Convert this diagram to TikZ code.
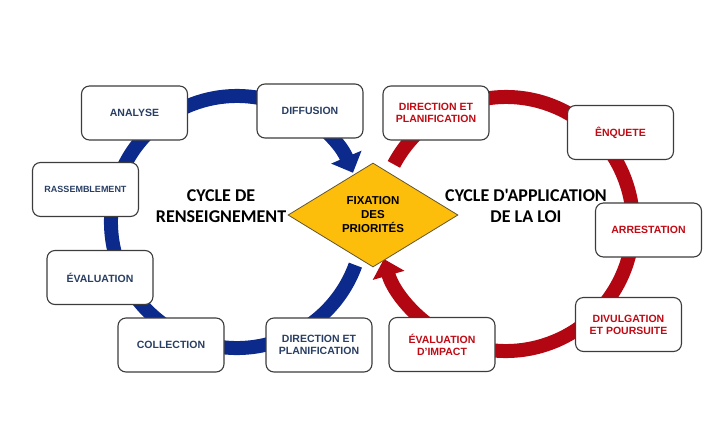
\documentclass[tikz,border=0pt]{standalone}
\usepackage{fontspec}
\setmainfont{Liberation Sans}
\newfontfamily\titlefont{Carlito}
\usetikzlibrary{arrows.meta,shapes.geometric}
\definecolor{ringblue}{RGB}{12,42,140}
\definecolor{ringred}{RGB}{178,6,18}
\definecolor{txtblue}{RGB}{40,62,100}
\definecolor{txtred}{RGB}{192,10,20}
\definecolor{gold}{RGB}{252,190,10}
\definecolor{boxedge}{RGB}{60,60,60}
\tikzset{
  stepbox/.style={draw=boxedge, line width=1.1pt, fill=white, rounded corners=8pt,
    minimum width=106pt, minimum height=54pt, align=center, inner sep=1pt,
    font=\fontsize{10.5}{12}\selectfont\bfseries},
  bluebox/.style={stepbox, text=txtblue},
  redbox/.style={stepbox, text=txtred},
  ringb/.style={line width=14pt, draw=ringblue},
  ringr/.style={line width=14pt, draw=ringred},
  cycletitle/.style={align=center, font=\titlefont\fontsize{18}{21}\selectfont\bfseries, text=black}
}
\begin{document}
\begin{tikzpicture}[x=1pt,y=-1pt]
\useasboundingbox (0,0) rectangle (720,421);
\coordinate (cl) at (237,222);
\coordinate (cr) at (506,224);
% rings
\draw[ringb, -{Triangle[length=17pt, width=32pt]}] (cl) ++(20:126) arc[start angle=20, end angle=337, radius=126];
\draw[ringr, -{Triangle[length=17pt, width=32pt]}] (cr) ++(-152:127) arc[start angle=-152, end angle=164, radius=127];
% diamond
\node[diamond, draw=boxedge!80!gold, line width=0.8pt, fill=gold, minimum width=170pt, minimum height=104pt, inner sep=0pt, align=center, font=\fontsize{11.5}{14}\selectfont\bfseries] (fix) at (373,215) {FIXATION\\DES\\PRIORITÉS};
% titles
\node[cycletitle] (t1) at (221,206) {CYCLE DE\\RENSEIGNEMENT};
\node[cycletitle] (t2) at (526,206) {CYCLE D'APPLICATION\\DE LA LOI};
% left boxes
\node[bluebox] (ana) at (134.5,113) {ANALYSE};
\node[bluebox] (dif) at (310,111) {DIFFUSION};
\node[bluebox, font=\fontsize{9}{11}\selectfont\bfseries] (ras) at (85.5,189.5) {RASSEMBLEMENT};
\node[bluebox] (eva) at (100,277.5) {ÉVALUATION};
\node[bluebox] (col) at (171,345) {COLLECTION};
\node[bluebox] (dirl) at (319,345) {DIRECTION ET\\PLANIFICATION};
% right boxes
\node[redbox] (dirr) at (436,113) {DIRECTION ET\\PLANIFICATION};
\node[redbox] (enq) at (620.5,132.5) {ÊNQUETE};
\node[redbox] (arr) at (648.5,230) {ARRESTATION};
\node[redbox] (div) at (628.5,324.5) {DIVULGATION\\ET POURSUITE};
\node[redbox] (imp) at (442,344.5) {ÉVALUATION\\D'IMPACT};
\end{tikzpicture}
\end{document}
